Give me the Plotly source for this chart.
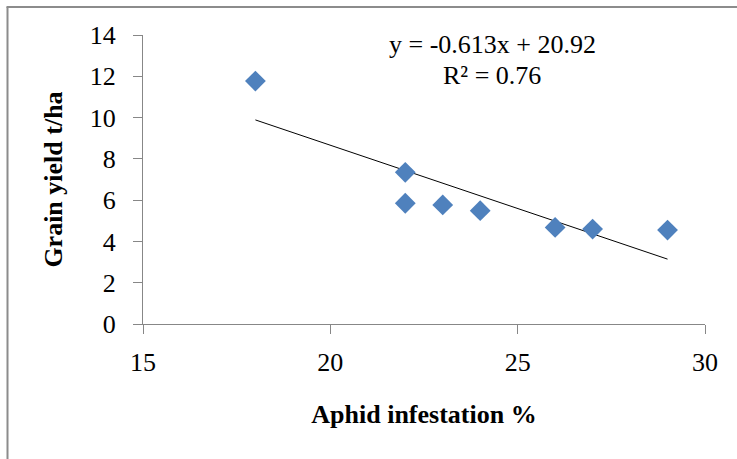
import plotly.graph_objects as go

infestation = [18, 22, 22, 23, 24, 26, 27, 29]
grain_yield = [11.77, 7.35, 5.85, 5.77, 5.49, 4.68, 4.60, 4.55]
slope = -0.613
intercept = 20.92
r2 = 0.76
x_ticks = [15, 20, 25, 30]
y_ticks = [0, 2, 4, 6, 8, 10, 12, 14]

trend_x = [min(infestation), max(infestation)]
trend_y = [slope * v + intercept for v in trend_x]

font_family = "Liberation Serif, Times New Roman, serif"

L, T, R, B = 143, 35, 705, 324
W, H = 737, 459
PW, PH = R - L, B - T


def px(x):
    return (x - L) / PW


def py(y):
    return (B - y) / PH


fig = go.Figure()
fig.add_trace(go.Scatter(
    x=trend_x, y=trend_y, mode="lines",
    line=dict(color="black", width=1), showlegend=False, hoverinfo="skip"))
fig.add_trace(go.Scatter(
    x=infestation, y=grain_yield, mode="markers",
    marker=dict(symbol="diamond", size=16, color="#4F81BD"),
    showlegend=False))

fig.update_layout(
    width=W, height=H,
    margin=dict(l=L, r=W - R, t=T, b=H - B),
    paper_bgcolor="white", plot_bgcolor="white",
    font=dict(family=font_family, size=26, color="black"),
    xaxis=dict(range=[15, 30], tickvals=x_ticks, showgrid=False, zeroline=False,
               showline=True, linecolor="#878787", linewidth=1,
               ticks="outside", ticklen=9, tickcolor="#878787",
               ticklabelstandoff=6, tickfont=dict(size=26),
               title=dict(text="<b>Aphid infestation %</b>", standoff=28,
                          font=dict(size=26))),
    yaxis=dict(range=[0, 14], tickvals=y_ticks, showgrid=False, zeroline=False,
               showline=True, linecolor="#878787", linewidth=1,
               ticks="outside", ticklen=9, tickcolor="#878787",
               ticklabelstandoff=12, tickfont=dict(size=26),
               title=dict(text="<b>Grain yield t/ha</b>", standoff=19,
                          font=dict(size=26))),
    annotations=[
        dict(xref="paper", yref="paper", x=px(492), y=py(45),
             text=f"y = {slope}x + {intercept}", showarrow=False,
             xanchor="center", yanchor="middle", font=dict(size=26)),
        dict(xref="paper", yref="paper", x=px(492), y=py(75),
             text=f"R² = {r2}", showarrow=False,
             xanchor="center", yanchor="middle", font=dict(size=26)),
    ],
    shapes=[
        dict(type="line", xref="paper", yref="paper",
             x0=px(7.5), x1=px(7.5), y0=py(7), y1=py(480),
             line=dict(color="#8c8c8c", width=2)),
        dict(type="line", xref="paper", yref="paper",
             x0=px(6.5), x1=px(760), y0=py(7), y1=py(7),
             line=dict(color="#8c8c8c", width=2)),
    ],
)

fig.write_html(
    "out.html",
    config={"displayModeBar": False},
    post_script="document.body.style.margin='0';document.body.style.overflow='hidden';",
)
